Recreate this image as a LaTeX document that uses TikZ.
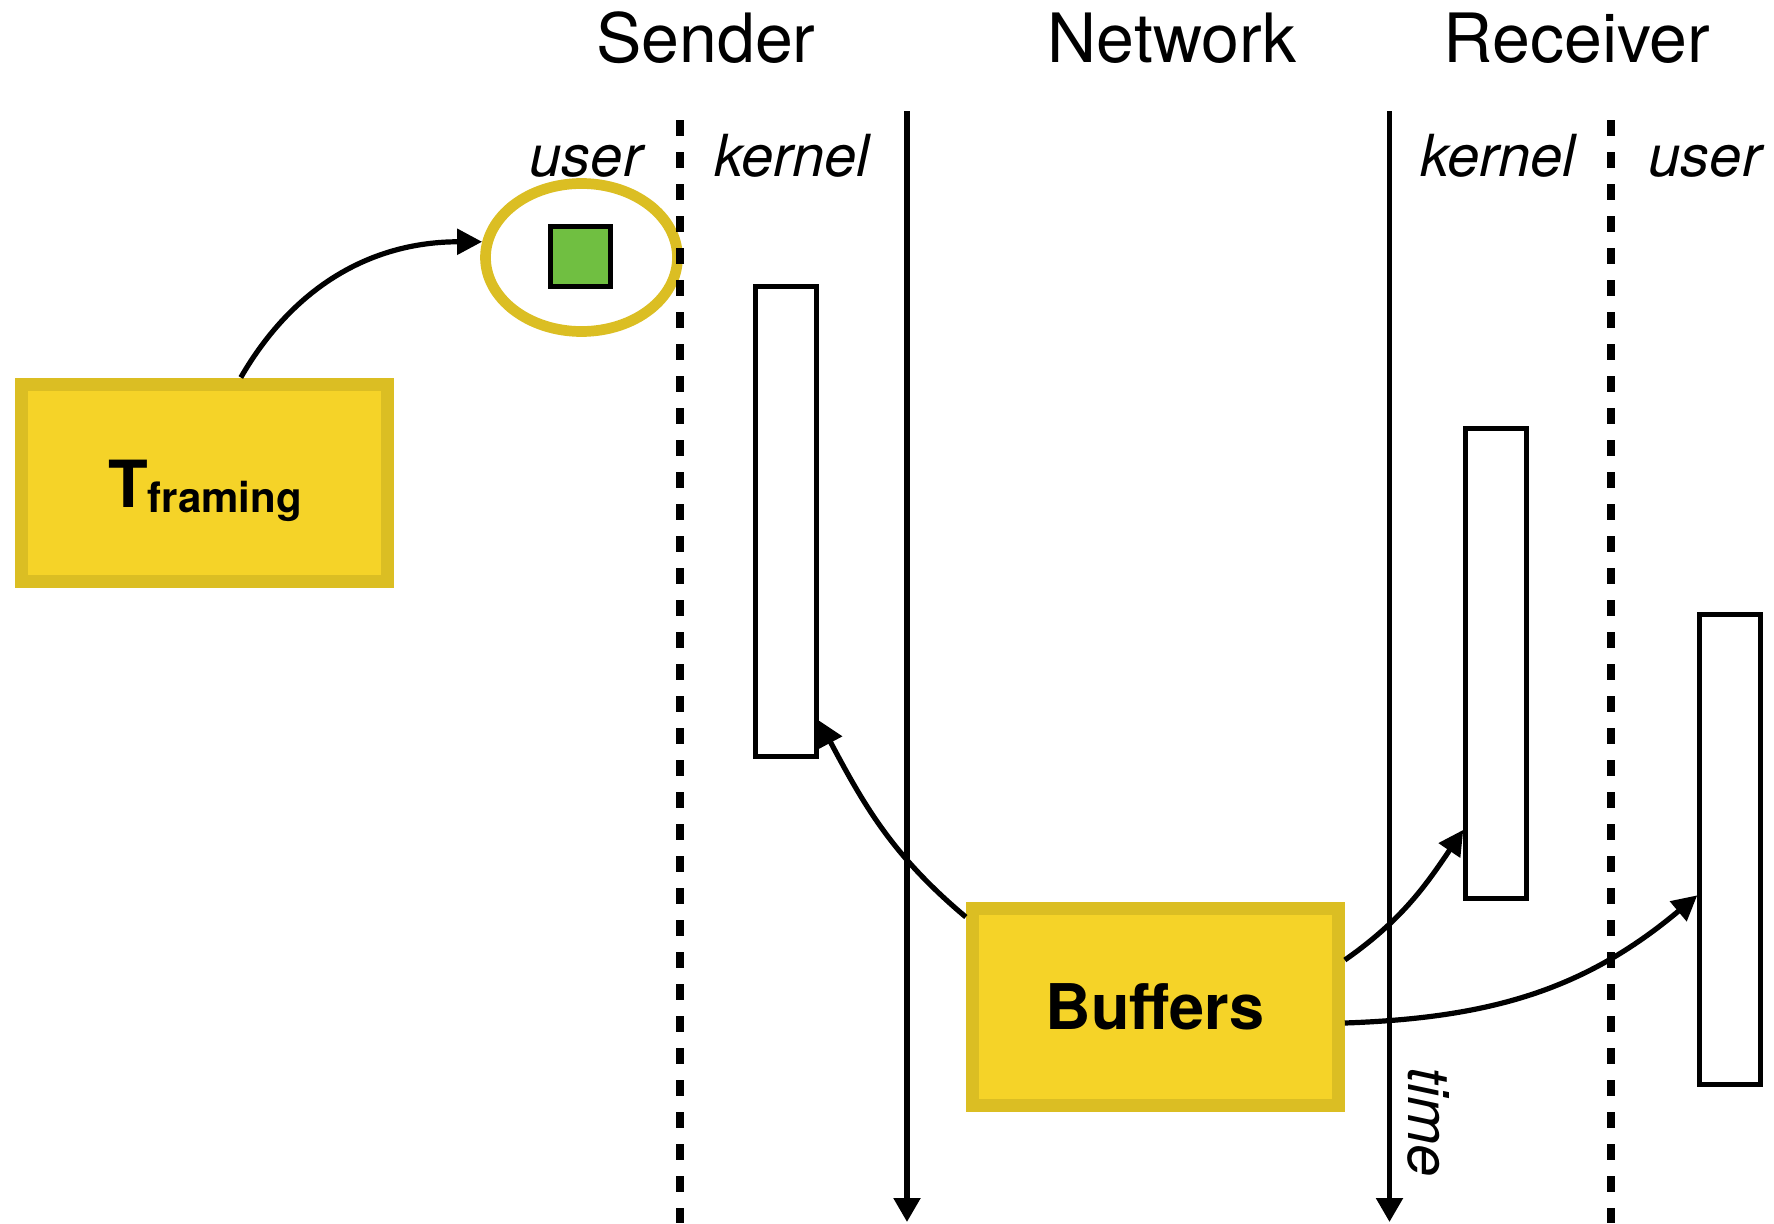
\documentclass[tikz,border=0pt]{standalone}
\usepackage{fontspec}
\setmainfont{TeX Gyre Heros}
\usetikzlibrary{arrows.meta,shapes.geometric}
\definecolor{yfill}{RGB}{245,211,40}
\definecolor{yedge}{RGB}{219,190,35}
\definecolor{gfill}{RGB}{112,191,65}
\tikzset{
  conn/.style={line width=5.2pt, -{Triangle[length=25pt,width=25pt]}},
  timeline/.style={line width=5.3pt, -{Triangle[length=24pt,width=26pt]}},
  layerline/.style={line width=8pt, dash pattern=on 15.5pt off 16.5pt},
  ybox/.style={rectangle, draw=yedge, fill=yfill, line width=13pt, minimum width=366pt, minimum height=197pt, inner sep=0pt},
  slot/.style={rectangle, draw=black, fill=white, line width=5pt, minimum width=61pt, minimum height=470pt, inner sep=0pt},
  title/.style={font=\fontsize{68}{80}\selectfont, anchor=base, inner sep=0pt},
  layer/.style={font=\fontsize{58}{68}\selectfont\itshape, anchor=base, inner sep=0pt},
}
\begin{document}
\begin{tikzpicture}[x=1pt,y=1pt]
\useasboundingbox (0,0) rectangle (1774,-1223);
% titles
\node[title] (snd) at (706,-63) {Sender};
\node[title] (net) at (1172,-63) {Network};
\node[title] (rcv) at (1577,-63) {Receiver};
\node[layer] (sul) at (586,-176) {user};
\node[layer] (skl) at (792,-176) {kernel};
\node[layer] (rkl) at (1498,-176) {kernel};
\node[layer] (rul) at (1705,-176) {user};
% packet in ellipse
\node[ellipse, draw=yedge, line width=10.7pt, minimum width=192pt, minimum height=148pt, inner sep=0pt] (ell) at (581.5,-257.5) {};
\node[rectangle, draw=black, fill=gfill, line width=5pt, minimum size=60pt, inner sep=0pt] (pkt) at (580.5,-256.5) {};
% boundary lines
\coordinate (d1t) at (680,-120); \coordinate (d1b) at (680,-1223);
\coordinate (d2t) at (1611,-120); \coordinate (d2b) at (1611,-1223);
\draw[layerline] (d1t) -- (d1b);
\draw[layerline] (d2t) -- (d2b);
\coordinate (l1t) at (907,-111); \coordinate (l1b) at (907,-1222);
\coordinate (l2t) at (1389.5,-111); \coordinate (l2b) at (1389.5,-1222);
\draw[timeline] (l1t) -- (l1b);
\draw[timeline] (l2t) -- (l2b);
% slots
\node[slot] (skr) at (786,-521) {};
\node[slot] (rkr) at (1496.3,-663) {};
\node[slot] (rur) at (1730.3,-849.8) {};
% yellow boxes
\node[ybox] (tf) at (204.8,-482.5) {};
\node[anchor=base, inner sep=0pt, font=\bfseries] (tft) at (205,-507) {\fontsize{65}{70}\selectfont T\raisebox{-5pt}{\fontsize{42}{45}\selectfont framing}};
\node[ybox, font=\fontsize{63}{70}\selectfont\bfseries] (buf) at (1155.3,-1007) {Buffers};
% time label
\node[layer, rotate=-90, anchor=base west] (time) at (1408,-1067) {time};
% connectors
\draw[conn] ([xshift=36pt]tf.north) to[out=60,in=180] (ell.171);
\draw[conn] ([yshift=-15pt]buf.north west) to[out=140,in=-62] ([yshift=38pt]skr.south east);
\draw[conn] ([yshift=47pt]buf.east) to[out=35,in=-124] ([yshift=70.7pt]rkr.south west);
\draw[conn] ([yshift=-16pt]buf.east) to[out=2,in=-140] ([yshift=192pt]rur.south west);
\end{tikzpicture}
\end{document}
